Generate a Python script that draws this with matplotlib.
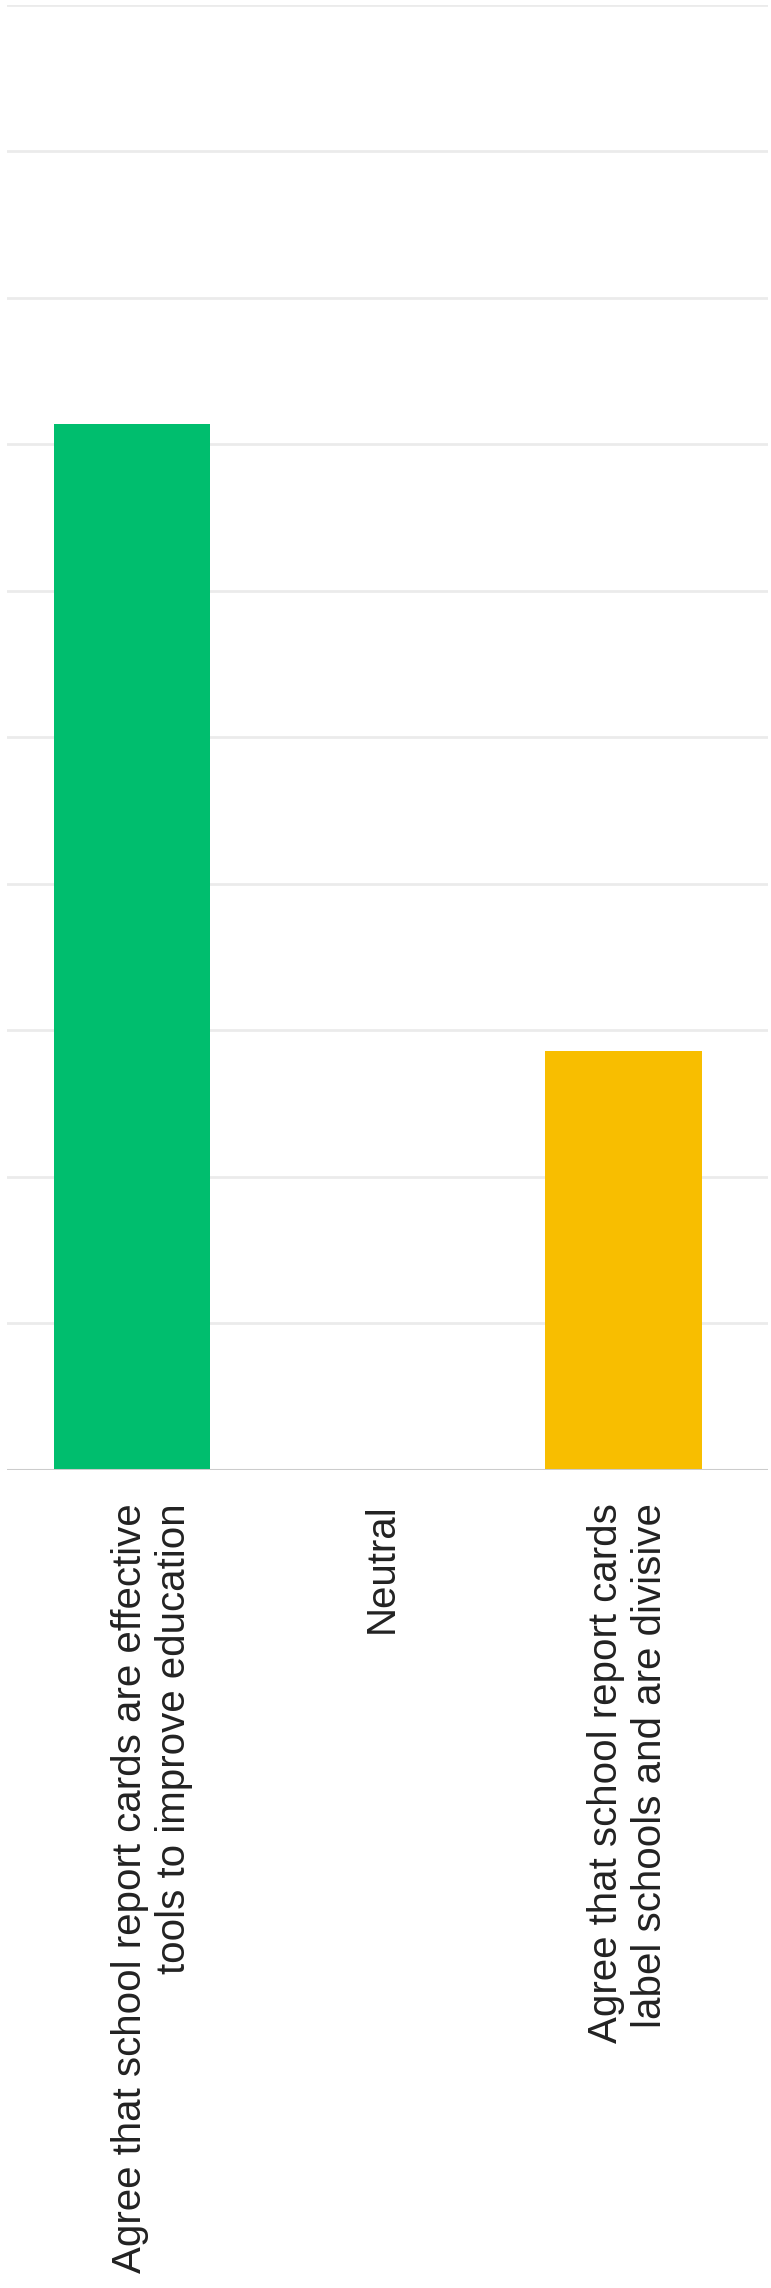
import numpy as np
import matplotlib
matplotlib.use("Agg")
import matplotlib.pyplot as plt
from matplotlib.transforms import ScaledTranslation

# data (percent of respondents)
categories = ["Agree that school report cards are effective\ntools to improve education",
              "Neutral",
              "Agree that school report cards\nlabel schools and are divisive"]
values = [71.4, 0.0, 28.6]
colors = ["#00be6e", "#999999", "#f8be00"]
y_ticks = np.arange(0, 101, 10)

plt.rcParams['font.family'] = ['Liberation Sans', 'DejaVu Sans']

fig = plt.figure(figsize=(7.71, 22.88), dpi=100)
ax = fig.add_axes([7 / 771, (2288 - 1470) / 2288, 761 / 771, (1470 - 4.5) / 2288])

x = np.arange(len(categories))
ax.bar(x, values, width=0.635, color=colors, zorder=3)

ax.set_ylim(0, 100)
ax.set_xlim(-0.509, 2.588)
ax.set_yticks(y_ticks)
ax.yaxis.grid(True, color="#ebebeb", linewidth=2, zorder=0)
ax.set_yticklabels([])
ax.tick_params(axis="y", length=0)
ax.axhline(0, color="#cccccc", linewidth=2.2, zorder=4)

ax.set_xticks(x)
ax.set_xticklabels(categories, rotation=90, ha="center", va="top",
                   multialignment="right", fontsize=29, color="#222222")
ax.tick_params(axis="x", length=0, pad=24)

# small horizontal nudges so labels sit like the original
shifts = [20, 4, 4]
for lab, dx in zip(ax.get_xticklabels(), shifts):
    lab.set_transform(lab.get_transform() + ScaledTranslation(dx / 100, 0, fig.dpi_scale_trans))

for s in ax.spines.values():
    s.set_visible(False)

fig.savefig("out.png", dpi=100)
